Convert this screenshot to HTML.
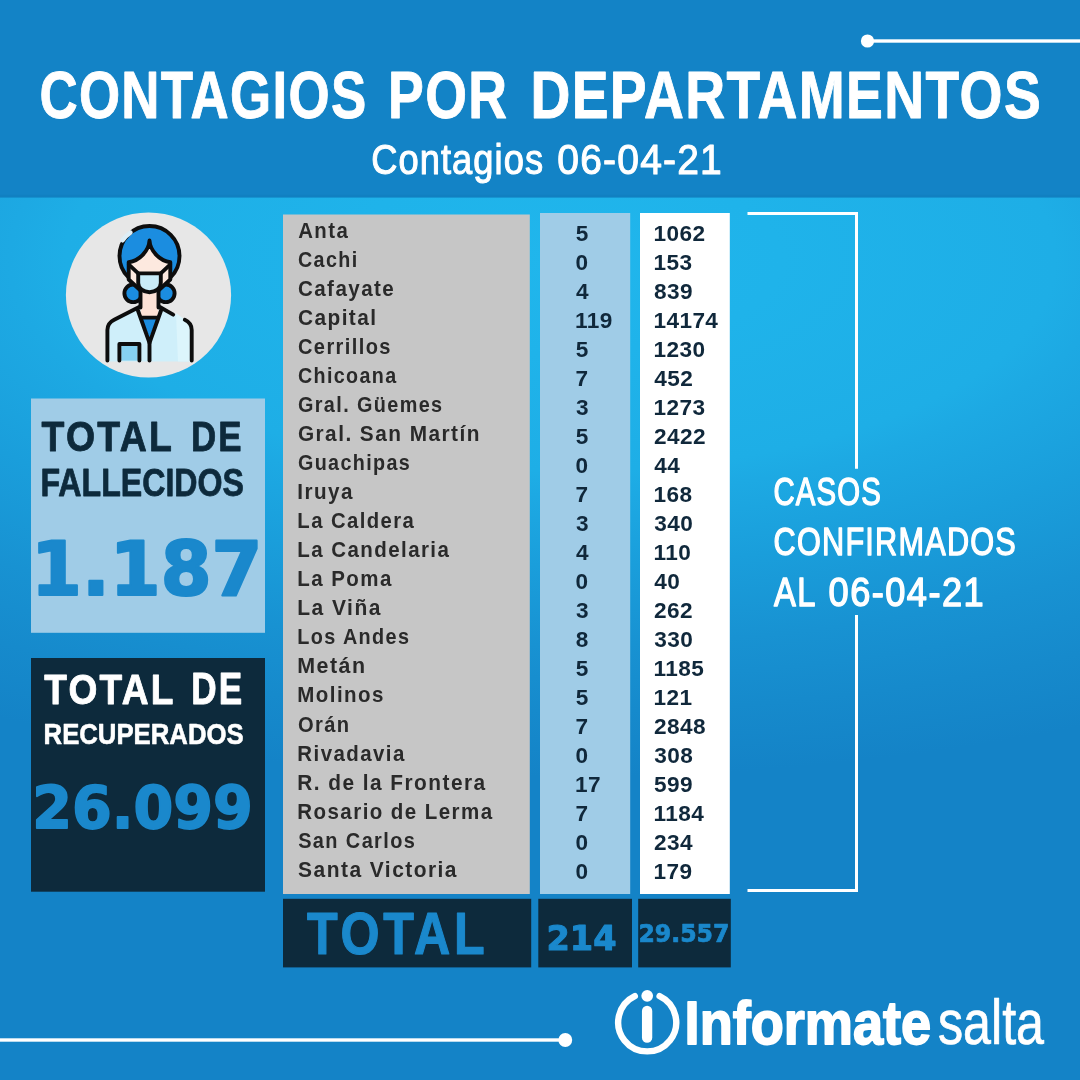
<!DOCTYPE html>
<html><head><meta charset="utf-8"><title>Contagios por departamentos</title>
<style>
html,body{margin:0;padding:0;width:1080px;height:1080px;overflow:hidden;background:#1383c6;}
svg{display:block}
text{white-space:pre}
</style></head><body>
<svg width="1080" height="1080" viewBox="0 0 1080 1080">
<defs>
<radialGradient id="bg" cx="0" cy="0" r="1" gradientUnits="userSpaceOnUse" gradientTransform="translate(560,260) scale(1210,517)">
<stop offset="0.000" stop-color="#20b6ec"/>
<stop offset="0.182" stop-color="#1fb3ea"/>
<stop offset="0.409" stop-color="#1eaee6"/>
<stop offset="0.455" stop-color="#1da9e3"/>
<stop offset="0.591" stop-color="#1a9edb"/>
<stop offset="0.745" stop-color="#1892d2"/>
<stop offset="0.873" stop-color="#168acc"/>
<stop offset="1.000" stop-color="#1483c7"/>
</radialGradient>
</defs>
<rect x="0" y="0" width="1080" height="1080" fill="#1383c6"/>
<rect x="0" y="194.8" width="1080" height="3" fill="#1180c1"/>
<rect x="0" y="197.6" width="1080" height="882.4" fill="url(#bg)"/>
<!-- decorative lines -->
<rect x="867" y="39.3" width="213" height="3.4" fill="#fff"/>
<circle cx="867.5" cy="41" r="6.6" fill="#fff"/>
<rect x="0" y="1038.3" width="565" height="3.4" fill="#fff"/>
<circle cx="565.3" cy="1040" r="6.9" fill="#fff"/>
<!-- avatar -->
<circle cx="148.5" cy="295" r="82.6" fill="#e7e7e7"/>
<g id="doctor" stroke="#0d0d0d" stroke-width="3.9" stroke-linecap="round" stroke-linejoin="round">
  <circle cx="133.2" cy="293.3" r="8.8" fill="#1b8de0"/>
  <circle cx="165.8" cy="293.3" r="8.8" fill="#1b8de0"/>
  <circle cx="149.5" cy="256" r="30" fill="#1b8de0"/>
  <path d="M122.6,240.2 A30,30 0 0 1 130.4,232.6" stroke="#dfeef6" stroke-width="4.6"/>
  <path d="M107.4,361.5 V330 C107.4,325 110,321.8 114.2,319.7 L139.2,307 L159.8,307 L184.8,319.7 C189,321.8 191.7,325 191.7,330 V361.5 Z" fill="#cfeffa" stroke="none"/>
  <path d="M176,313 L184.8,319.7 C189,321.8 191.7,325 191.7,330 V361.5 H178 Z" fill="#dcf5fc" stroke="none"/>
  <path d="M140.5,289 V318 H158.5 V289 Z" fill="#fde2d6" stroke="none"/>
  <path d="M140.5,289 V307.5 M158.5,289 V307.5" fill="none"/>
  <path d="M149.5,240.5 C149,250.5 139.5,260.8 128.7,262.3 V279.5 L140,290 H159 L170.3,279.5 V262.3 C159.5,260.8 150,250.5 149.5,240.5 Z" fill="#fde9df"/>
  <path d="M128.9,264.6 L138.2,273.4 M170.1,264.6 L160.8,273.4" fill="none"/>
  <path d="M138.2,273.4 H160.8 V283 C160.8,288.5 155.5,292.2 149.5,292.2 C143.5,292.2 138.2,288.5 138.2,283 Z" fill="#c9ecf9"/>
  <path d="M139.2,307 L114.2,319.7 C110,321.8 107.4,325 107.4,330 V360.6" fill="none"/>
  <path d="M159.8,307 L173.2,314.6" fill="none"/>
  <path d="M184.8,319.8 C189,321.8 191.7,325 191.7,330 V360.6" fill="none"/>
  <path d="M141.4,317.6 H157.6 L149.5,337.5 Z" fill="#1b8de0" stroke="none"/>
  <path d="M141.4,317.6 H157.6" fill="none"/>
  <path d="M137.6,309.5 L149.5,342.8 L161.4,309.5" fill="none"/>
  <path d="M149.5,342.8 V360.6" fill="none"/>
  <rect x="121.4" y="345.9" width="16" height="14.7" fill="#86d1f1" stroke="none"/>
  <path d="M119.4,360.6 V344 H139.4 V360.6" fill="none"/>
</g>

<!-- left boxes -->
<rect x="31" y="398.5" width="234" height="234.3" fill="#a0cce7"/>
<rect x="31" y="658" width="234" height="233.7" fill="#0d2a3c"/>
<!-- table -->
<rect x="283" y="214.5" width="246.8" height="679.5" fill="#c6c6c6"/>
<rect x="540" y="213" width="90.2" height="681" fill="#a0cce7"/>
<rect x="640" y="213" width="89.8" height="681" fill="#ffffff"/>
<rect x="283" y="898.8" width="248.2" height="68.6" fill="#0d2a3c"/>
<rect x="538.3" y="898.8" width="93.7" height="68.6" fill="#0d2a3c"/>
<rect x="638.2" y="898.8" width="92.6" height="68.6" fill="#0d2a3c"/>
<!-- bracket -->
<path d="M747.5 213.5 H856.5 V468.8 M856.5 615 V890.4 H747.5" fill="none" stroke="#fff" stroke-width="3"/>
<g id="logo" fill="none" stroke="#fff" stroke-linecap="round">
  <path d="M634.8,996.2 A29,29 0 1 0 659.6,996.2" stroke-width="6.4"/>
  <circle cx="647.2" cy="995.8" r="5.85" fill="#fff" stroke="none"/>
  <path d="M647.1,1011 V1037.7" stroke-width="10.3"/>
</g>

<text transform="translate(39.41,118.16) scale(0.7880,1)" font-family="&quot;Liberation Sans&quot;, sans-serif" font-weight="700" font-size="67.12" fill="#ffffff" style="letter-spacing:0.025em;stroke-width:0.014em;stroke-linejoin:round" stroke="#ffffff">CONTAGIOS</text>
<text transform="translate(388.08,118.16) scale(0.7985,1)" font-family="&quot;Liberation Sans&quot;, sans-serif" font-weight="700" font-size="67.12" fill="#ffffff" style="letter-spacing:0.025em;stroke-width:0.014em;stroke-linejoin:round" stroke="#ffffff">POR</text>
<text transform="translate(530.39,118.16) scale(0.8227,1)" font-family="&quot;Liberation Sans&quot;, sans-serif" font-weight="700" font-size="67.12" fill="#ffffff" style="letter-spacing:0.025em;stroke-width:0.014em;stroke-linejoin:round" stroke="#ffffff">DEPARTAMENTOS</text>
<text transform="translate(371.15,174.00) scale(0.8609,1)" font-family="&quot;Liberation Sans&quot;, sans-serif" font-weight="400" font-size="42.14" fill="#ffffff" style="letter-spacing:0.03em;stroke-width:0.025em;stroke-linejoin:round" stroke="#ffffff">Contagios</text>
<text transform="translate(557.33,174.00) scale(0.9263,1)" font-family="&quot;Liberation Sans&quot;, sans-serif" font-weight="400" font-size="42.14" fill="#ffffff" style="letter-spacing:0.03em;stroke-width:0.025em;stroke-linejoin:round" stroke="#ffffff">06-04-21</text>
<text transform="translate(41.60,450.85) scale(0.8785,1)" font-family="&quot;Liberation Sans&quot;, sans-serif" font-weight="700" font-size="42.60" fill="#0d2a3c" style="letter-spacing:0.06em;stroke-width:0.02em;stroke-linejoin:round" stroke="#0d2a3c">TOTAL</text>
<text transform="translate(191.00,451.20) scale(0.8096,1)" font-family="&quot;Liberation Sans&quot;, sans-serif" font-weight="700" font-size="43.14" fill="#0d2a3c" style="letter-spacing:0.06em;stroke-width:0.02em;stroke-linejoin:round" stroke="#0d2a3c">DE</text>
<text transform="translate(40.47,496.14) scale(0.8472,1)" font-family="&quot;Liberation Sans&quot;, sans-serif" font-weight="700" font-size="37.95" fill="#0d2a3c" style="stroke-width:0.02em;stroke-linejoin:round" stroke="#0d2a3c">FALLECIDOS</text>
<text transform="translate(31.09,595.22) scale(0.9869,1)" font-family="&quot;DejaVu Sans&quot;, sans-serif" font-weight="700" font-size="74.10" fill="#1a88cc" style="stroke-width:0.03em;stroke-linejoin:round" stroke="#1a88cc">1.187</text>
<text transform="translate(44.30,703.93) scale(0.8552,1)" font-family="&quot;Liberation Sans&quot;, sans-serif" font-weight="700" font-size="43.42" fill="#ffffff" style="letter-spacing:0.06em;stroke-width:0.02em;stroke-linejoin:round" stroke="#ffffff">TOTAL</text>
<text transform="translate(191.19,704.40) scale(0.7988,1)" font-family="&quot;Liberation Sans&quot;, sans-serif" font-weight="700" font-size="44.00" fill="#ffffff" style="letter-spacing:0.06em;stroke-width:0.02em;stroke-linejoin:round" stroke="#ffffff">DE</text>
<text transform="translate(43.56,744.11) scale(0.8738,1)" font-family="&quot;Liberation Sans&quot;, sans-serif" font-weight="700" font-size="29.45" fill="#ffffff" style="stroke-width:0.02em;stroke-linejoin:round" stroke="#ffffff">RECUPERADOS</text>
<text transform="translate(32.17,827.73) scale(0.9780,1)" font-family="&quot;DejaVu Sans&quot;, sans-serif" font-weight="700" font-size="58.46" fill="#1a88cc" style="stroke-width:0.03em;stroke-linejoin:round" stroke="#1a88cc">26.099</text>
<text transform="translate(773.42,505.00) scale(0.7445,1)" font-family="&quot;Liberation Sans&quot;, sans-serif" font-weight="400" font-size="39.44" fill="#ffffff" style="letter-spacing:0.04em;stroke-width:0.035em;stroke-linejoin:round" stroke="#ffffff">CASOS</text>
<text transform="translate(773.58,555.00) scale(0.7920,1)" font-family="&quot;Liberation Sans&quot;, sans-serif" font-weight="400" font-size="38.73" fill="#ffffff" style="letter-spacing:0.04em;stroke-width:0.035em;stroke-linejoin:round" stroke="#ffffff">CONFIRMADOS</text>
<text transform="translate(774.03,606.30) scale(0.8175,1)" font-family="&quot;Liberation Sans&quot;, sans-serif" font-weight="400" font-size="40.00" fill="#ffffff" style="letter-spacing:0.04em;stroke-width:0.035em;stroke-linejoin:round" stroke="#ffffff">AL</text>
<text transform="translate(828.58,606.30) scale(0.9054,1)" font-family="&quot;Liberation Sans&quot;, sans-serif" font-weight="400" font-size="40.00" fill="#ffffff" style="letter-spacing:0.04em;stroke-width:0.035em;stroke-linejoin:round" stroke="#ffffff">06-04-21</text>
<text transform="translate(307.00,954.41) scale(0.8405,1)" font-family="&quot;Liberation Sans&quot;, sans-serif" font-weight="700" font-size="59.73" fill="#1a88cc" style="letter-spacing:0.075em;stroke-width:0.02em;stroke-linejoin:round" stroke="#1a88cc">TOTAL</text>
<text transform="translate(684.59,1043.77) scale(0.8830,1)" font-family="&quot;Liberation Sans&quot;, sans-serif" font-weight="700" font-size="61.32" fill="#ffffff" style="stroke-width:0.03em;stroke-linejoin:round" stroke="#ffffff">Informate</text>
<text transform="translate(938.00,1044.38) scale(0.8074,1)" font-family="&quot;Liberation Sans&quot;, sans-serif" font-weight="400" font-size="62.16" fill="#ffffff" style="stroke-width:0.012em;stroke-linejoin:round" stroke="#ffffff">salta</text>
<text transform="translate(546.48,949.51) scale(0.9763,1)" font-family="&quot;DejaVu Sans&quot;, sans-serif" font-weight="700" font-size="34.42" fill="#1a88cc" style="stroke-width:0.03em;stroke-linejoin:round" stroke="#1a88cc">214</text>
<text transform="translate(638.38,941.92) scale(0.9841,1)" font-family="&quot;DejaVu Sans&quot;, sans-serif" font-weight="700" font-size="23.97" fill="#1a88cc" style="stroke-width:0.03em;stroke-linejoin:round" stroke="#1a88cc">29.557</text>
<text transform="translate(298.14,238.00) scale(0.8906,1)" font-family="&quot;Liberation Sans&quot;, sans-serif" font-weight="700" font-size="22.90" fill="#2a2a2a" style="letter-spacing:0.07em">Anta</text>
<text transform="translate(575.72,240.70) scale(1.0000,1)" font-family="&quot;Liberation Sans&quot;, sans-serif" font-weight="700" font-size="22.61" fill="#10283b" style="letter-spacing:0.018em">5</text>
<text transform="translate(653.44,240.70) scale(1.0000,1)" font-family="&quot;Liberation Sans&quot;, sans-serif" font-weight="700" font-size="22.61" fill="#10283b" style="letter-spacing:0.018em">1062</text>
<text transform="translate(297.96,267.03) scale(0.8606,1)" font-family="&quot;Liberation Sans&quot;, sans-serif" font-weight="700" font-size="22.90" fill="#2a2a2a" style="letter-spacing:0.07em">Cachi</text>
<text transform="translate(575.50,269.73) scale(1.0000,1)" font-family="&quot;Liberation Sans&quot;, sans-serif" font-weight="700" font-size="22.61" fill="#10283b" style="letter-spacing:0.018em">0</text>
<text transform="translate(653.44,269.73) scale(1.0000,1)" font-family="&quot;Liberation Sans&quot;, sans-serif" font-weight="700" font-size="22.61" fill="#10283b" style="letter-spacing:0.018em">153</text>
<text transform="translate(297.93,296.06) scale(0.8987,1)" font-family="&quot;Liberation Sans&quot;, sans-serif" font-weight="700" font-size="22.90" fill="#2a2a2a" style="letter-spacing:0.07em">Cafayate</text>
<text transform="translate(575.95,298.76) scale(1.0000,1)" font-family="&quot;Liberation Sans&quot;, sans-serif" font-weight="700" font-size="22.61" fill="#10283b" style="letter-spacing:0.018em">4</text>
<text transform="translate(654.12,298.76) scale(1.0000,1)" font-family="&quot;Liberation Sans&quot;, sans-serif" font-weight="700" font-size="22.61" fill="#10283b" style="letter-spacing:0.018em">839</text>
<text transform="translate(297.92,325.09) scale(0.9100,1)" font-family="&quot;Liberation Sans&quot;, sans-serif" font-weight="700" font-size="22.90" fill="#2a2a2a" style="letter-spacing:0.07em">Capital</text>
<text transform="translate(575.04,327.79) scale(1.0000,1)" font-family="&quot;Liberation Sans&quot;, sans-serif" font-weight="700" font-size="22.61" fill="#10283b" style="letter-spacing:0.018em">119</text>
<text transform="translate(653.44,327.79) scale(1.0000,1)" font-family="&quot;Liberation Sans&quot;, sans-serif" font-weight="700" font-size="22.61" fill="#10283b" style="letter-spacing:0.018em">14174</text>
<text transform="translate(297.95,354.12) scale(0.8758,1)" font-family="&quot;Liberation Sans&quot;, sans-serif" font-weight="700" font-size="22.90" fill="#2a2a2a" style="letter-spacing:0.07em">Cerrillos</text>
<text transform="translate(575.72,356.82) scale(1.0000,1)" font-family="&quot;Liberation Sans&quot;, sans-serif" font-weight="700" font-size="22.61" fill="#10283b" style="letter-spacing:0.018em">5</text>
<text transform="translate(653.44,356.82) scale(1.0000,1)" font-family="&quot;Liberation Sans&quot;, sans-serif" font-weight="700" font-size="22.61" fill="#10283b" style="letter-spacing:0.018em">1230</text>
<text transform="translate(297.96,383.15) scale(0.8598,1)" font-family="&quot;Liberation Sans&quot;, sans-serif" font-weight="700" font-size="22.90" fill="#2a2a2a" style="letter-spacing:0.07em">Chicoana</text>
<text transform="translate(575.50,385.85) scale(1.0000,1)" font-family="&quot;Liberation Sans&quot;, sans-serif" font-weight="700" font-size="22.61" fill="#10283b" style="letter-spacing:0.018em">7</text>
<text transform="translate(654.35,385.85) scale(1.0000,1)" font-family="&quot;Liberation Sans&quot;, sans-serif" font-weight="700" font-size="22.61" fill="#10283b" style="letter-spacing:0.018em">452</text>
<text transform="translate(297.96,412.18) scale(0.8658,1)" font-family="&quot;Liberation Sans&quot;, sans-serif" font-weight="700" font-size="22.90" fill="#2a2a2a" style="letter-spacing:0.07em">Gral. Güemes</text>
<text transform="translate(575.95,414.88) scale(1.0000,1)" font-family="&quot;Liberation Sans&quot;, sans-serif" font-weight="700" font-size="22.61" fill="#10283b" style="letter-spacing:0.018em">3</text>
<text transform="translate(653.44,414.88) scale(1.0000,1)" font-family="&quot;Liberation Sans&quot;, sans-serif" font-weight="700" font-size="22.61" fill="#10283b" style="letter-spacing:0.018em">1273</text>
<text transform="translate(297.92,441.21) scale(0.9091,1)" font-family="&quot;Liberation Sans&quot;, sans-serif" font-weight="700" font-size="22.90" fill="#2a2a2a" style="letter-spacing:0.07em">Gral. San Martín</text>
<text transform="translate(575.72,443.91) scale(1.0000,1)" font-family="&quot;Liberation Sans&quot;, sans-serif" font-weight="700" font-size="22.61" fill="#10283b" style="letter-spacing:0.018em">5</text>
<text transform="translate(654.12,443.91) scale(1.0000,1)" font-family="&quot;Liberation Sans&quot;, sans-serif" font-weight="700" font-size="22.61" fill="#10283b" style="letter-spacing:0.018em">2422</text>
<text transform="translate(297.96,470.24) scale(0.8613,1)" font-family="&quot;Liberation Sans&quot;, sans-serif" font-weight="700" font-size="22.90" fill="#2a2a2a" style="letter-spacing:0.07em">Guachipas</text>
<text transform="translate(575.50,472.94) scale(1.0000,1)" font-family="&quot;Liberation Sans&quot;, sans-serif" font-weight="700" font-size="22.61" fill="#10283b" style="letter-spacing:0.018em">0</text>
<text transform="translate(654.35,472.94) scale(1.0000,1)" font-family="&quot;Liberation Sans&quot;, sans-serif" font-weight="700" font-size="22.61" fill="#10283b" style="letter-spacing:0.018em">44</text>
<text transform="translate(297.31,499.27) scale(0.9010,1)" font-family="&quot;Liberation Sans&quot;, sans-serif" font-weight="700" font-size="22.90" fill="#2a2a2a" style="letter-spacing:0.07em">Iruya</text>
<text transform="translate(575.50,501.97) scale(1.0000,1)" font-family="&quot;Liberation Sans&quot;, sans-serif" font-weight="700" font-size="22.61" fill="#10283b" style="letter-spacing:0.018em">7</text>
<text transform="translate(653.44,501.97) scale(1.0000,1)" font-family="&quot;Liberation Sans&quot;, sans-serif" font-weight="700" font-size="22.61" fill="#10283b" style="letter-spacing:0.018em">168</text>
<text transform="translate(297.33,528.30) scale(0.8861,1)" font-family="&quot;Liberation Sans&quot;, sans-serif" font-weight="700" font-size="22.90" fill="#2a2a2a" style="letter-spacing:0.07em">La Caldera</text>
<text transform="translate(575.95,531.00) scale(1.0000,1)" font-family="&quot;Liberation Sans&quot;, sans-serif" font-weight="700" font-size="22.61" fill="#10283b" style="letter-spacing:0.018em">3</text>
<text transform="translate(654.35,531.00) scale(1.0000,1)" font-family="&quot;Liberation Sans&quot;, sans-serif" font-weight="700" font-size="22.61" fill="#10283b" style="letter-spacing:0.018em">340</text>
<text transform="translate(297.32,557.33) scale(0.8952,1)" font-family="&quot;Liberation Sans&quot;, sans-serif" font-weight="700" font-size="22.90" fill="#2a2a2a" style="letter-spacing:0.07em">La Candelaria</text>
<text transform="translate(575.95,560.03) scale(1.0000,1)" font-family="&quot;Liberation Sans&quot;, sans-serif" font-weight="700" font-size="22.61" fill="#10283b" style="letter-spacing:0.018em">4</text>
<text transform="translate(653.44,560.03) scale(1.0000,1)" font-family="&quot;Liberation Sans&quot;, sans-serif" font-weight="700" font-size="22.61" fill="#10283b" style="letter-spacing:0.018em">110</text>
<text transform="translate(297.31,586.36) scale(0.8961,1)" font-family="&quot;Liberation Sans&quot;, sans-serif" font-weight="700" font-size="22.90" fill="#2a2a2a" style="letter-spacing:0.07em">La Poma</text>
<text transform="translate(575.50,589.06) scale(1.0000,1)" font-family="&quot;Liberation Sans&quot;, sans-serif" font-weight="700" font-size="22.61" fill="#10283b" style="letter-spacing:0.018em">0</text>
<text transform="translate(654.35,589.06) scale(1.0000,1)" font-family="&quot;Liberation Sans&quot;, sans-serif" font-weight="700" font-size="22.61" fill="#10283b" style="letter-spacing:0.018em">40</text>
<text transform="translate(297.28,615.39) scale(0.9166,1)" font-family="&quot;Liberation Sans&quot;, sans-serif" font-weight="700" font-size="22.90" fill="#2a2a2a" style="letter-spacing:0.07em">La Viña</text>
<text transform="translate(575.95,618.09) scale(1.0000,1)" font-family="&quot;Liberation Sans&quot;, sans-serif" font-weight="700" font-size="22.61" fill="#10283b" style="letter-spacing:0.018em">3</text>
<text transform="translate(654.12,618.09) scale(1.0000,1)" font-family="&quot;Liberation Sans&quot;, sans-serif" font-weight="700" font-size="22.61" fill="#10283b" style="letter-spacing:0.018em">262</text>
<text transform="translate(297.36,644.42) scale(0.8659,1)" font-family="&quot;Liberation Sans&quot;, sans-serif" font-weight="700" font-size="22.90" fill="#2a2a2a" style="letter-spacing:0.07em">Los Andes</text>
<text transform="translate(575.72,647.12) scale(1.0000,1)" font-family="&quot;Liberation Sans&quot;, sans-serif" font-weight="700" font-size="22.61" fill="#10283b" style="letter-spacing:0.018em">8</text>
<text transform="translate(654.35,647.12) scale(1.0000,1)" font-family="&quot;Liberation Sans&quot;, sans-serif" font-weight="700" font-size="22.61" fill="#10283b" style="letter-spacing:0.018em">330</text>
<text transform="translate(297.25,673.45) scale(0.9359,1)" font-family="&quot;Liberation Sans&quot;, sans-serif" font-weight="700" font-size="22.90" fill="#2a2a2a" style="letter-spacing:0.07em">Metán</text>
<text transform="translate(575.72,676.15) scale(1.0000,1)" font-family="&quot;Liberation Sans&quot;, sans-serif" font-weight="700" font-size="22.61" fill="#10283b" style="letter-spacing:0.018em">5</text>
<text transform="translate(653.44,676.15) scale(1.0000,1)" font-family="&quot;Liberation Sans&quot;, sans-serif" font-weight="700" font-size="22.61" fill="#10283b" style="letter-spacing:0.018em">1185</text>
<text transform="translate(297.31,702.48) scale(0.8954,1)" font-family="&quot;Liberation Sans&quot;, sans-serif" font-weight="700" font-size="22.90" fill="#2a2a2a" style="letter-spacing:0.07em">Molinos</text>
<text transform="translate(575.72,705.18) scale(1.0000,1)" font-family="&quot;Liberation Sans&quot;, sans-serif" font-weight="700" font-size="22.61" fill="#10283b" style="letter-spacing:0.018em">5</text>
<text transform="translate(653.44,705.18) scale(1.0000,1)" font-family="&quot;Liberation Sans&quot;, sans-serif" font-weight="700" font-size="22.61" fill="#10283b" style="letter-spacing:0.018em">121</text>
<text transform="translate(297.94,731.51) scale(0.8797,1)" font-family="&quot;Liberation Sans&quot;, sans-serif" font-weight="700" font-size="22.90" fill="#2a2a2a" style="letter-spacing:0.07em">Orán</text>
<text transform="translate(575.50,734.21) scale(1.0000,1)" font-family="&quot;Liberation Sans&quot;, sans-serif" font-weight="700" font-size="22.61" fill="#10283b" style="letter-spacing:0.018em">7</text>
<text transform="translate(654.12,734.21) scale(1.0000,1)" font-family="&quot;Liberation Sans&quot;, sans-serif" font-weight="700" font-size="22.61" fill="#10283b" style="letter-spacing:0.018em">2848</text>
<text transform="translate(297.32,760.54) scale(0.8933,1)" font-family="&quot;Liberation Sans&quot;, sans-serif" font-weight="700" font-size="22.90" fill="#2a2a2a" style="letter-spacing:0.07em">Rivadavia</text>
<text transform="translate(575.50,763.24) scale(1.0000,1)" font-family="&quot;Liberation Sans&quot;, sans-serif" font-weight="700" font-size="22.61" fill="#10283b" style="letter-spacing:0.018em">0</text>
<text transform="translate(654.35,763.24) scale(1.0000,1)" font-family="&quot;Liberation Sans&quot;, sans-serif" font-weight="700" font-size="22.61" fill="#10283b" style="letter-spacing:0.018em">308</text>
<text transform="translate(297.29,789.57) scale(0.9107,1)" font-family="&quot;Liberation Sans&quot;, sans-serif" font-weight="700" font-size="22.90" fill="#2a2a2a" style="letter-spacing:0.07em">R. de la Frontera</text>
<text transform="translate(575.04,792.27) scale(1.0000,1)" font-family="&quot;Liberation Sans&quot;, sans-serif" font-weight="700" font-size="22.61" fill="#10283b" style="letter-spacing:0.018em">17</text>
<text transform="translate(654.12,792.27) scale(1.0000,1)" font-family="&quot;Liberation Sans&quot;, sans-serif" font-weight="700" font-size="22.61" fill="#10283b" style="letter-spacing:0.018em">599</text>
<text transform="translate(297.31,818.60) scale(0.8959,1)" font-family="&quot;Liberation Sans&quot;, sans-serif" font-weight="700" font-size="22.90" fill="#2a2a2a" style="letter-spacing:0.07em">Rosario de Lerma</text>
<text transform="translate(575.50,821.30) scale(1.0000,1)" font-family="&quot;Liberation Sans&quot;, sans-serif" font-weight="700" font-size="22.61" fill="#10283b" style="letter-spacing:0.018em">7</text>
<text transform="translate(653.44,821.30) scale(1.0000,1)" font-family="&quot;Liberation Sans&quot;, sans-serif" font-weight="700" font-size="22.61" fill="#10283b" style="letter-spacing:0.018em">1184</text>
<text transform="translate(298.15,847.63) scale(0.8708,1)" font-family="&quot;Liberation Sans&quot;, sans-serif" font-weight="700" font-size="22.90" fill="#2a2a2a" style="letter-spacing:0.07em">San Carlos</text>
<text transform="translate(575.50,850.33) scale(1.0000,1)" font-family="&quot;Liberation Sans&quot;, sans-serif" font-weight="700" font-size="22.61" fill="#10283b" style="letter-spacing:0.018em">0</text>
<text transform="translate(654.12,850.33) scale(1.0000,1)" font-family="&quot;Liberation Sans&quot;, sans-serif" font-weight="700" font-size="22.61" fill="#10283b" style="letter-spacing:0.018em">234</text>
<text transform="translate(298.12,876.66) scale(0.9154,1)" font-family="&quot;Liberation Sans&quot;, sans-serif" font-weight="700" font-size="22.90" fill="#2a2a2a" style="letter-spacing:0.07em">Santa Victoria</text>
<text transform="translate(575.50,879.36) scale(1.0000,1)" font-family="&quot;Liberation Sans&quot;, sans-serif" font-weight="700" font-size="22.61" fill="#10283b" style="letter-spacing:0.018em">0</text>
<text transform="translate(653.44,879.36) scale(1.0000,1)" font-family="&quot;Liberation Sans&quot;, sans-serif" font-weight="700" font-size="22.61" fill="#10283b" style="letter-spacing:0.018em">179</text>
</svg>
</body></html>
